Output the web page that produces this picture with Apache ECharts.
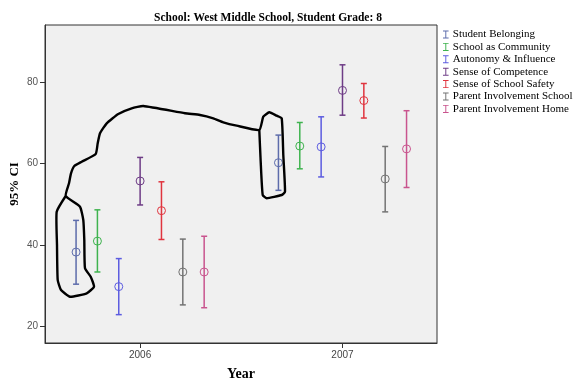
<!DOCTYPE html>
<html>
<head>
<meta charset="utf-8">
<script src="https://cdn.jsdelivr.net/npm/echarts@6/dist/echarts.min.js"></script>
<style>
  html, body { margin: 0; padding: 0; background: #ffffff; }
  #chart { width: 574px; height: 382px; }
</style>
</head>
<body>
<div id="chart"></div>
<script>
// Survey years on the x axis
const years = [2006, 2007];

// Measures, in legend order
const measures = [
  'Student Belonging',
  'School as Community',
  'Autonomy & Influence',
  'Sense of Competence',
  'Sense of School Safety',
  'Parent Involvement School',
  'Parent Involvement Home'
];

// 95% confidence intervals per year: [lower, mean, upper]
const studentBelonging      = [[30.3, 38.2, 46.0], [53.4, 60.2, 67.0]];
const schoolAsCommunity     = [[33.3, 40.9, 48.6], [58.7, 64.3, 70.1]];
const autonomyInfluence     = [[22.8, 29.7, 36.6], [56.7, 64.1, 71.5]];
const senseOfCompetence     = [[49.8, 55.7, 61.5], [71.9, 78.0, 84.3]];
const senseOfSchoolSafety   = [[41.3, 48.4, 55.5], [71.2, 75.5, 79.7]];
const parentInvolvementSch  = [[25.2, 33.3, 41.4], [48.1, 56.2, 64.2]];
const parentInvolvementHome = [[24.5, 33.3, 42.1], [54.1, 63.6, 73.0]];

const intervals = [
  studentBelonging, schoolAsCommunity, autonomyInfluence, senseOfCompetence,
  senseOfSchoolSafety, parentInvolvementSch, parentInvolvementHome
];

// Y axis tick labels
const yTicks = [20, 40, 60, 80];

const colors = ['#5d6cab', '#3fb34f', '#5c5ce0', '#6e3c86', '#e0343e', '#737373', '#c9548e'];

// horizontal spread of the measures within one year (in years)
const DODGE = 0.1055;

function makeRender(idx) {
  return function (params, api) {
    const x = api.value(0) + (idx - 3) * DODGE;
    const lo = api.coord([x, api.value(1)]);
    const mid = api.coord([x, api.value(2)]);
    const hi = api.coord([x, api.value(3)]);
    const c = colors[idx];
    const hw = 3;
    const lineStyle = { stroke: c, lineWidth: 1.5 };
    return {
      type: 'group',
      children: [
        { type: 'line', shape: { x1: lo[0], y1: lo[1], x2: hi[0], y2: hi[1] }, style: lineStyle },
        { type: 'line', shape: { x1: lo[0] - hw, y1: lo[1], x2: lo[0] + hw, y2: lo[1] }, style: lineStyle },
        { type: 'line', shape: { x1: hi[0] - hw, y1: hi[1], x2: hi[0] + hw, y2: hi[1] }, style: lineStyle },
        { type: 'circle', shape: { cx: mid[0], cy: mid[1], r: 4 }, style: { stroke: c, fill: 'none', lineWidth: 1 } }
      ]
    };
  };
}

const series = measures.map((name, i) => ({
  name: name,
  type: 'custom',
  renderItem: makeRender(i),
  itemStyle: { color: colors[i] },
  encode: { x: 0, y: [1, 2, 3] },
  data: years.map((yr, k) => [yr, intervals[i][k][0], intervals[i][k][1], intervals[i][k][2]])
}));

// hand-drawn outline around the Student Belonging bars
const outline = [
  [65.7, 196], [56.7, 211.7], [57, 245], [57.7, 280], [61, 290], [70, 296.7], [86.7, 293.3],
  [94, 286.7], [90.7, 276.7], [85, 268.3], [84.3, 240], [83.3, 220], [80, 206.7], [65.7, 196],
  [69, 183.3], [71, 173.3], [74.3, 166], [81.7, 161.7], [95.7, 154], [97.7, 143.3], [100, 133.3],
  [106.7, 123.3], [118.3, 114], [131.7, 108.3], [143.3, 106], [185, 113.3], [200, 115],
  [213.3, 118.3], [223.3, 122.3], [236.7, 125.7], [259.3, 130], [263.3, 116.7], [269.3, 112.3],
  [276.7, 115.7], [281.7, 118.3], [283.3, 155], [285, 191.7], [281.7, 195], [266.7, 198.3],
  [262.7, 195], [260.7, 161.7], [259.3, 130]
];

const serif = '"Liberation Serif", "Times New Roman", serif';
const sans = '"Liberation Sans", Arial, sans-serif';

const chart = echarts.init(document.getElementById('chart'), null, { renderer: 'canvas' });
chart.setOption({
  animation: false,
  backgroundColor: '#ffffff',
  title: {
    text: 'School: West Middle School, Student Grade: 8',
    left: 263, top: 7, textAlign: 'center',
    textStyle: { fontFamily: serif, fontSize: 11.5, fontWeight: 'bold', color: '#000' }
  },
  legend: {
    orient: 'vertical',
    left: 438, top: 24,
    itemWidth: 6, itemHeight: 8, itemGap: 1.4,
    icon: 'path://M0,0h7v1.2h-7z M2.9,0h1.2v10h-1.2z M0,8.8h7v1.2h-7z',
    textStyle: { fontFamily: serif, fontSize: 11, color: '#000', padding: [0, 0, 0, -1] },
    data: measures
  },
  grid: {
    left: 45, top: 25, right: 137, bottom: 39,
    containLabel: false, outerBoundsMode: 'none',
    show: true, backgroundColor: '#f0f0f0', borderColor: '#333', borderWidth: 1
  },
  xAxis: {
    type: 'value', min: 2005.53, max: 2007.467,
    name: 'Year', nameLocation: 'middle', nameGap: 24,
    nameTextStyle: { fontFamily: serif, fontSize: 14, fontWeight: 'bold', color: '#000' },
    axisLine: { show: true, lineStyle: { color: '#333' } },
    axisTick: { show: true, length: 5, customValues: years, lineStyle: { color: '#333' } },
    axisLabel: {
      customValues: years, fontFamily: sans, fontSize: 10, color: '#444', margin: 7,
      formatter: v => String(v)
    },
    splitLine: { show: false }
  },
  yAxis: {
    type: 'value', min: 15.82, max: 94.1,
    name: '95% CI', nameLocation: 'middle', nameGap: 24, nameRotate: 90,
    nameMoveOverlap: false,
    nameTextStyle: { fontFamily: serif, fontSize: 13, fontWeight: 'bold', color: '#000' },
    axisLine: { show: true, lineStyle: { color: '#333' } },
    axisTick: { show: true, length: 5, customValues: yTicks, lineStyle: { color: '#333' } },
    axisLabel: { customValues: yTicks, fontFamily: sans, fontSize: 10, color: '#555', margin: 7 },
    splitLine: { show: false }
  },
  series: series,
  graphic: [{
    type: 'polyline',
    z: 100,
    shape: { points: outline, smooth: 0.15 },
    style: { stroke: '#000', lineWidth: 2.4, fill: null, lineJoin: 'round', lineCap: 'round' }
  }]
});
</script>
</body>
</html>
